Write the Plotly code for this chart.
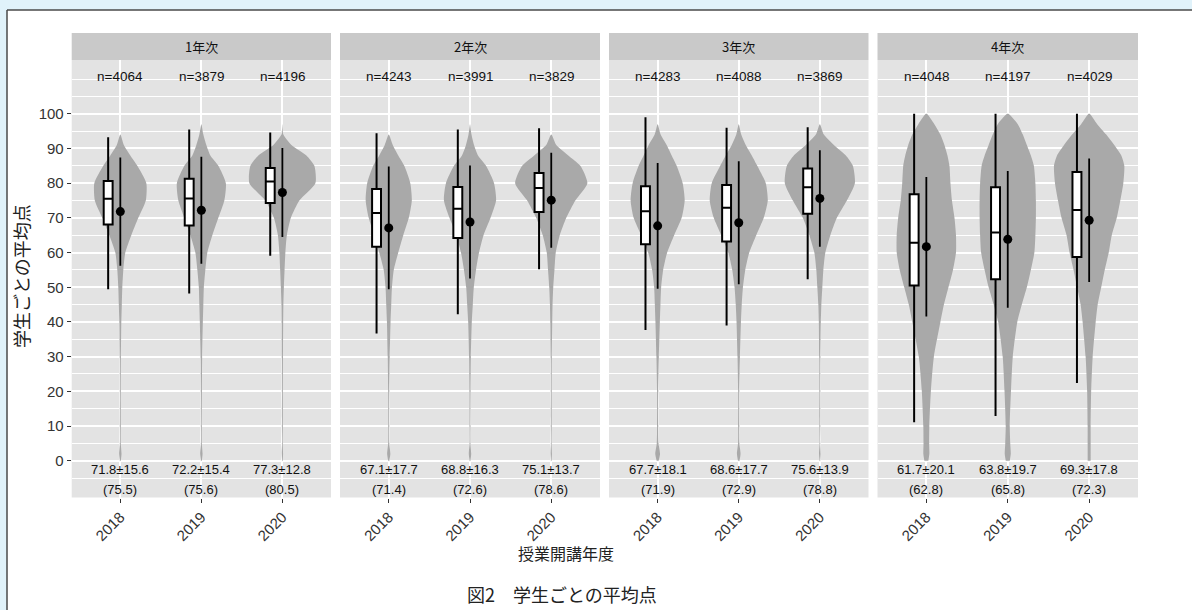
import plotly.graph_objects as go

# ---- data -------------------------------------------------------------
GRADES = ["1年次", "2年次", "3年次", "4年次"]
YEARS = ["2018", "2019", "2020"]

N_COUNTS = [[4064, 3879, 4196], [4243, 3991, 3829], [4283, 4088, 3869], [4048, 4197, 4029]]
MEANS = [[71.8, 72.2, 77.3], [67.1, 68.8, 75.1], [67.7, 68.6, 75.6], [61.7, 63.8, 69.3]]
SDS = [[15.6, 15.4, 12.8], [17.7, 16.3, 13.7], [18.1, 17.7, 13.9], [20.1, 19.7, 17.8]]
MEDIANS = [[75.5, 75.6, 80.5], [71.4, 72.6, 78.6], [71.9, 72.9, 78.8], [62.8, 65.8, 72.3]]
Q1 = [[68.1, 67.8, 74.3], [61.7, 64.2, 71.7], [62.4, 63.2, 71.2], [50.5, 52.3, 58.7]]
Q3 = [[80.6, 81.3, 84.4], [78.3, 78.9, 82.9], [79.1, 79.5, 84.2], [76.8, 78.8, 83.2]]
LOWER = [[49.4, 48.2, 59.1], [36.7, 42.2, 55.2], [37.7, 39.0, 52.3], [11.1, 12.9, 22.4]]
UPPER = [[93.2, 95.5, 94.6], [94.4, 95.5, 95.8], [99.0, 96.0, 96.1], [100, 100, 100]]

# score levels at which the violin density (relative half-width) is given
DENSITY_LEVELS = [0, 2, 5, 10, 20, 30, 40, 45, 50, 55, 60, 65, 70, 75, 80, 85, 88, 91, 94, 97, 100]
DENSITY = [
    [  # 1年次
        [0.5, 1.2, 0.5, 0.5, 0.5, 0.6, 1, 1.5, 2, 3, 5, 11, 18, 25.5, 26, 17, 10, 3.5, 0, 0, 0],
        [0.5, 1.2, 0.5, 0.5, 0.6, 0.8, 1.5, 2, 2.5, 4, 6, 11, 17, 23, 24.5, 17, 9, 5, 2, 0, 0],
        [0.4, 0.7, 0.4, 0.5, 0.5, 0.6, 0.8, 1, 1.5, 2.2, 3, 4.5, 8.5, 17, 33, 32, 24, 9, 1, 0, 0],
    ],
    [  # 2年次
        [0.6, 1.6, 0.6, 0.5, 0.6, 1, 1.8, 2.5, 3.2, 5, 9.5, 14.5, 20, 23, 21.5, 15.5, 9.5, 4, 0, 0, 0],
        [0.5, 1.2, 0.5, 0.5, 0.6, 0.9, 1.8, 2.8, 3.8, 6, 9, 13.5, 20.5, 26, 24, 16, 8, 4, 1.5, 0, 0],
        [0.4, 0.7, 0.4, 0.5, 0.5, 0.6, 1, 1.3, 2, 3.2, 4.5, 8.5, 15, 24, 36, 29, 17, 5, 0, 0, 0],
    ],
    [  # 3年次
        [1, 2.4, 0.9, 0.6, 0.6, 1.2, 2.2, 2.8, 3.5, 5.5, 9.5, 16.5, 24, 27, 25, 19, 14, 9, 3, 0, 0],
        [0.8, 1.8, 0.7, 0.6, 0.6, 1.2, 2.2, 3, 4.2, 6.5, 10.5, 17.5, 25, 29, 27, 18.5, 13, 7, 2.5, 0, 0],
        [0.4, 0.8, 0.4, 0.5, 0.5, 0.6, 1, 1.5, 2.5, 3.5, 5.5, 10.5, 17, 27, 35, 33, 26, 14, 4, 0, 0],
    ],
    [  # 4年次
        [2, 3, 2.8, 3, 4.5, 7.5, 14, 17.5, 22, 26.5, 29.5, 29.5, 28, 25.5, 24, 23, 21, 18, 14, 8, 0],
        [2, 3, 2.5, 2, 3.2, 5, 9.5, 14, 19, 23, 26.5, 27.5, 28, 28, 27.5, 26, 23, 19, 15, 10, 0],
        [1.5, 1.5, 1.5, 1.5, 2, 3.5, 6.5, 8.5, 12, 15.5, 19.5, 22.5, 27.5, 31, 34, 35, 32, 25, 17, 8, 0],
    ],
]

Y_TICKS = list(range(0, 101, 10))
Y_MINOR = [-5] + list(range(5, 100, 10)) + [105, 110]

# ---- geometry / style ------------------------------------------------------
W, H = 1192, 610
FONT = "Liberation Sans, Arial, Noto Sans CJK JP, sans-serif"
JP_FONT = "Noto Sans CJK JP, Liberation Sans, sans-serif"
PANEL_X = [(71.7, 331.0), (340.0, 600.0), (609.0, 868.5), (877.5, 1138.0)]
PANEL_TOP, PANEL_BOTTOM, STRIP_TOP = 60.0, 497.5, 33.0
Y_RANGE = [-10.6, 115.5]
X_RANGE = [0.4, 3.6]
VIOLIN_SCALE = 1 / 81.0     # relative density -> x-axis units
BOX_SHIFT = -0.15
BOX_WIDTH = 0.11
VIOLIN_COLOR = "#a9a9a9"
PANEL_BG = "#e3e3e3"
STRIP_BG = "#c9c9c9"
TEXT_COLOR = "#111111"


def px_x(v):
    return v / W


def px_y(v):
    return 1 - v / H


fig = go.Figure()
annotations = []
shapes = []
axes = {}

for g, grade in enumerate(GRADES):
    sfx = "" if g == 0 else str(g + 1)
    xref, yref = "x" + sfx, "y" + sfx
    # an overlaying x axis so boxes and means are drawn above the violins
    top_idx = str(g + 5)
    xtop = "x" + top_idx
    x0, x1 = PANEL_X[g]

    axes["xaxis" + sfx] = dict(
        domain=[px_x(x0), px_x(x1)], anchor=yref, range=X_RANGE,
        tickmode="array", tickvals=[1, 2, 3], ticktext=YEARS, tickangle=-45,
        tickfont=dict(family=FONT, size=15, color="#333333"),
        ticks="outside", ticklen=4, tickwidth=1.2, tickcolor="#333333",
        showgrid=True, gridcolor="white", gridwidth=1.8,
        zeroline=False, showline=False, fixedrange=True,
    )
    axes["xaxis" + top_idx] = dict(
        overlaying=xref, anchor=yref, range=X_RANGE, visible=False,
        showgrid=False, zeroline=False, fixedrange=True,
    )
    axes["yaxis" + sfx] = dict(
        domain=[px_y(PANEL_BOTTOM), px_y(PANEL_TOP)], anchor=xref, range=Y_RANGE,
        tickmode="array", tickvals=Y_TICKS, ticktext=[str(t) for t in Y_TICKS],
        showticklabels=(g == 0), ticks="outside" if g == 0 else "",
        ticklen=4, tickwidth=1.2, tickcolor="#333333",
        tickfont=dict(family=FONT, size=15, color="#333333"),
        showgrid=True, gridcolor="white", gridwidth=1.8,
        minor=dict(tickmode="array", tickvals=Y_MINOR, showgrid=True,
                   gridcolor="white", gridwidth=0.9, ticks=""),
        zeroline=False, showline=False, fixedrange=True,
    )
    if g > 0:
        axes["yaxis" + sfx]["matches"] = "y"

    # facet strip
    shapes.append(dict(type="rect", xref="paper", yref="paper",
                       x0=px_x(x0), x1=px_x(x1), y0=px_y(PANEL_TOP), y1=px_y(STRIP_TOP),
                       fillcolor=STRIP_BG, line=dict(width=0), layer="below"))
    annotations.append(dict(xref="paper", yref="paper", x=px_x((x0 + x1) / 2),
                            y=px_y((PANEL_TOP + STRIP_TOP) / 2), text=grade, showarrow=False,
                            font=dict(family=JP_FONT, size=13, color=TEXT_COLOR),
                            xanchor="center", yanchor="middle"))

    for k in range(3):
        c = k + 1
        dens = DENSITY[g][k]
        last = max(i for i, d in enumerate(dens) if d > 0)
        top = min(last + 1, len(dens) - 1)
        lv = DENSITY_LEVELS[: top + 1]
        hw = [d * VIOLIN_SCALE for d in dens[: top + 1]]
        vx = [c + h for h in hw] + [c - h for h in hw[-2::-1]]
        vy = lv + lv[-2::-1]
        fig.add_trace(go.Scatter(
            x=vx, y=vy, mode="lines", fill="toself", fillcolor=VIOLIN_COLOR,
            line=dict(width=0, color=VIOLIN_COLOR, shape="spline", smoothing=0.6),
            xaxis=xref, yaxis=yref, showlegend=False, hoverinfo="skip"))

        fig.add_trace(go.Box(
            x=[c + BOX_SHIFT], q1=[Q1[g][k]], median=[MEDIANS[g][k]], q3=[Q3[g][k]],
            lowerfence=[LOWER[g][k]], upperfence=[UPPER[g][k]],
            width=BOX_WIDTH, whiskerwidth=0, boxpoints=False,
            fillcolor="white", line=dict(color="black", width=2),
            xaxis=xtop, yaxis=yref, showlegend=False, hoverinfo="skip"))

        fig.add_trace(go.Scatter(
            x=[c], y=[MEANS[g][k]], mode="markers",
            marker=dict(color="black", size=9),
            error_y=dict(type="data", array=[SDS[g][k]], width=0, thickness=1.8, color="black"),
            xaxis=xtop, yaxis=yref, showlegend=False, hoverinfo="skip"))

        annotations.append(dict(xref=xref, yref=yref, x=c, y=110.7, text=f"n={N_COUNTS[g][k]}",
                                showarrow=False, xanchor="center", yanchor="middle",
                                font=dict(family=FONT, size=13.5, color=TEXT_COLOR)))
        annotations.append(dict(xref=xref, yref=yref, x=c, y=-2.6,
                                text=f"{MEANS[g][k]:.1f}±{SDS[g][k]:.1f}",
                                showarrow=False, xanchor="center", yanchor="middle",
                                font=dict(family=FONT, size=13, color=TEXT_COLOR)))
        annotations.append(dict(xref=xref, yref=yref, x=c, y=-8.3, text=f"({MEDIANS[g][k]:.1f})",
                                showarrow=False, xanchor="center", yanchor="middle",
                                font=dict(family=FONT, size=13, color=TEXT_COLOR)))

# titles and caption
annotations.append(dict(xref="paper", yref="paper", x=px_x(21), y=px_y(276), text="学生ごとの平均点",
                        textangle=-90, showarrow=False, xanchor="center", yanchor="middle",
                        font=dict(family=JP_FONT, size=18, color="#222222")))
annotations.append(dict(xref="paper", yref="paper", x=px_x(566), y=px_y(553), text="授業開講年度",
                        showarrow=False, xanchor="center", yanchor="middle",
                        font=dict(family=JP_FONT, size=16, color="#222222")))
annotations.append(dict(xref="paper", yref="paper", x=px_x(562), y=px_y(594),
                        text="図2　学生ごとの平均点", showarrow=False,
                        xanchor="center", yanchor="middle",
                        font=dict(family=JP_FONT, size=18, color="#222222")))

# page frame: pale blue margin on the top and left with a dark rule
BLUE = "#e0f2fa"
shapes.append(dict(type="rect", xref="paper", yref="paper", x0=0, x1=px_x(7), y0=0, y1=1,
                   fillcolor=BLUE, line=dict(width=0), layer="below"))
shapes.append(dict(type="rect", xref="paper", yref="paper", x0=0, x1=1, y0=px_y(10), y1=1,
                   fillcolor=BLUE, line=dict(width=0), layer="below"))
shapes.append(dict(type="line", xref="paper", yref="paper", x0=px_x(7), x1=px_x(7),
                   y0=0, y1=px_y(10), line=dict(color="#4a4a4a", width=1.5)))
shapes.append(dict(type="line", xref="paper", yref="paper", x0=px_x(7), x1=1,
                   y0=px_y(10), y1=px_y(10), line=dict(color="#4a4a4a", width=1.5)))

fig.update_layout(
    width=W, height=H, margin=dict(l=0, r=0, t=0, b=0),
    paper_bgcolor="white", plot_bgcolor=PANEL_BG,
    template="none", showlegend=False, hovermode=False,
    annotations=annotations, shapes=shapes,
    font=dict(family=FONT),
    **axes,
)

fig.write_html("out.html")
